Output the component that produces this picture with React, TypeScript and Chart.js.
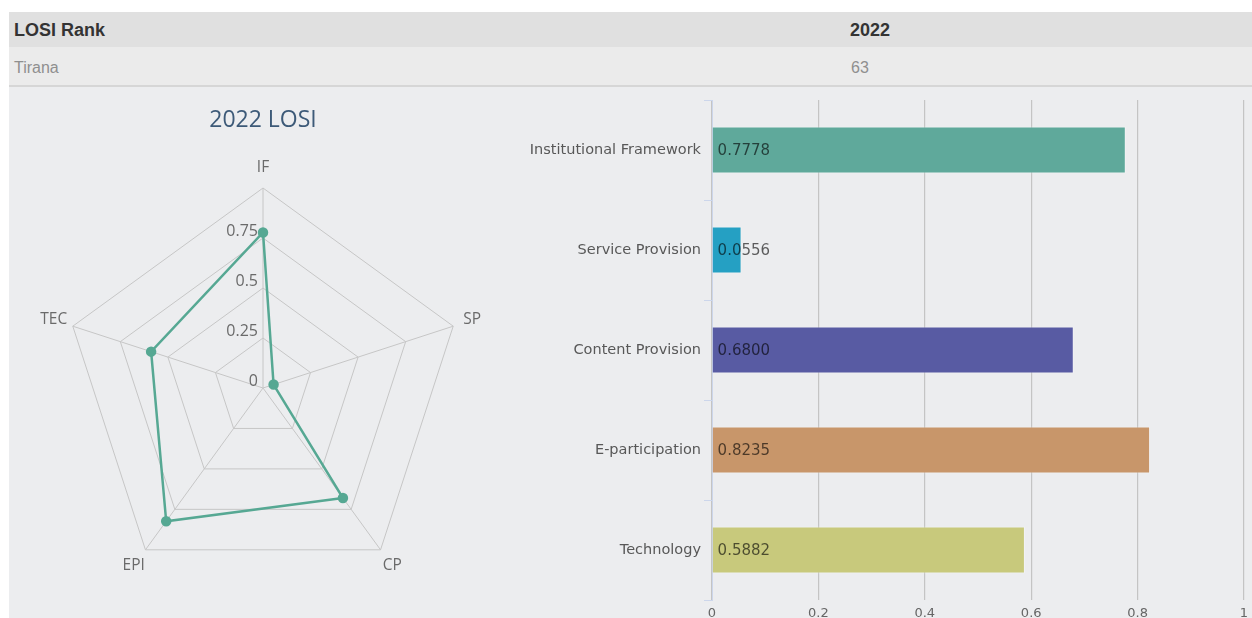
import { useEffect, useRef } from 'react';
import { Chart, registerables } from 'chart.js';

Chart.register(...registerables);

// ---- data ----
const rankHeader = ['LOSI Rank', '2022'];
const rankRow = ['Tirana', '63'];

const radarTitle = '2022 LOSI';
const radarAxes = ['IF', 'SP', 'CP', 'EPI', 'TEC'];
const radarValues = [0.7778, 0.0556, 0.68, 0.8235, 0.5882];
const radarTickValues = [0, 0.25, 0.5, 0.75];

const barCategories = [
  'Institutional Framework',
  'Service Provision',
  'Content Provision',
  'E-participation',
  'Technology',
];
const barValues = [0.7778, 0.0556, 0.68, 0.8235, 0.5882];
const barLabels = ['0.7778', '0.0556', '0.6800', '0.8235', '0.5882'];
const barColors = ['#5fa99b', '#25a0c3', '#585ba3', '#c8966a', '#c8c97c'];

const radarLabelPlugin = {
  id: 'radarLabels',
  beforeDatasetsDraw(chart: any) {
    const s = chart.scales.r;
    const ctx = chart.ctx;
    ctx.save();
    ctx.font = '16px "Open Sans"';
    ctx.fillStyle = '#6a6a6a';
    ctx.textAlign = 'right';
    ctx.textBaseline = 'middle';
    radarTickValues.forEach((v) => {
      const d = s.getDistanceFromCenterForValue(v);
      ctx.fillText(String(v), s.xCenter - 5, s.yCenter - d - 7);
    });
    ctx.restore();
  },
  afterDraw(chart: any) {
    const s = chart.scales.r;
    const ctx = chart.ctx;
    ctx.save();
    ctx.font = '15.5px "Open Sans"';
    ctx.fillStyle = '#6a6a6a';
    ctx.textAlign = 'center';
    ctx.textBaseline = 'middle';
    radarAxes.forEach((lab, i) => {
      const p = s.getPointPosition(i, s.drawingArea + 20);
      ctx.fillText(lab, p.x, p.y);
    });
    ctx.restore();
  },
};

const barLabelPlugin = {
  id: 'barLabels',
  afterDatasetsDraw(chart: any) {
    const meta = chart.getDatasetMeta(0);
    const ctx = chart.ctx;
    ctx.save();
    ctx.font = '15px "DejaVu Sans"';
    ctx.fillStyle = 'rgba(0,0,0,0.62)';
    ctx.textAlign = 'left';
    ctx.textBaseline = 'middle';
    meta.data.forEach((bar: any, i: number) => {
      ctx.fillText(barLabels[i], bar.base + 5, bar.y + 1);
    });
    ctx.restore();
  },
};

export default function App() {
  const radarRef = useRef<HTMLCanvasElement>(null);
  const barRef = useRef<HTMLCanvasElement>(null);

  useEffect(() => {
    const radar = new Chart(radarRef.current as HTMLCanvasElement, {
      type: 'radar',
      data: {
        labels: radarAxes,
        datasets: [
          {
            data: radarValues,
            borderColor: '#56a893',
            backgroundColor: '#56a893',
            pointBackgroundColor: '#56a893',
            pointBorderColor: '#56a893',
            borderWidth: 2.5,
            pointRadius: 4,
            fill: false,
          },
        ],
      },
      options: {
        animation: false,
        responsive: false,
        maintainAspectRatio: false,
        layout: { padding: { left: 54, right: 54, top: 0, bottom: 30 } },
        plugins: {
          legend: { display: false },
          tooltip: { enabled: false },
          title: {
            display: true,
            text: radarTitle,
            color: '#3d5a78',
            font: { family: 'Open Sans', size: 23, weight: 'normal', lineHeight: 1 },
            padding: { top: 21, bottom: 56 },
          },
        },
        scales: {
          r: {
            min: 0,
            max: 1,
            ticks: { display: false, stepSize: 0.25 },
            grid: { color: '#c6c6c6', lineWidth: 1 },
            angleLines: { color: '#c6c6c6', lineWidth: 1 },
            pointLabels: { display: false },
          },
        },
      },
      plugins: [radarLabelPlugin],
    } as any);

    const bar = new Chart(barRef.current as HTMLCanvasElement, {
      type: 'bar',
      data: {
        labels: barCategories,
        datasets: [
          {
            data: barValues,
            backgroundColor: barColors,
            borderColor: 'rgba(255,255,255,0.35)',
            borderWidth: 1,
            barPercentage: 0.47,
            categoryPercentage: 1,
          },
        ],
      },
      options: {
        indexAxis: 'y',
        animation: false,
        responsive: false,
        maintainAspectRatio: false,
        layout: { padding: { left: 0, right: 8, top: 12, bottom: 0 } },
        plugins: { legend: { display: false }, tooltip: { enabled: false } },
        scales: {
          x: {
            min: 0,
            max: 1,
            ticks: {
              stepSize: 0.2,
              color: '#666',
              font: { family: 'DejaVu Sans', size: 13 },
              padding: 6,
              callback: (v: any) => String(Number(Number(v).toFixed(1))),
            },
            grid: { color: '#c4c4c4', drawTicks: false, lineWidth: 1.2 },
            border: { display: false },
            afterFit: (s: any) => {
              s.height = 18;
              s.paddingRight = 0;
              s.paddingLeft = 0;
            },
          },
          y: {
            ticks: {
              color: '#585858',
              font: { family: 'DejaVu Sans', size: 14.5 },
              padding: 3,
            },
            grid: {
              drawOnChartArea: false,
              color: '#ccd6eb',
              tickLength: 8,
              offset: true,
            },
            border: { color: '#ccd6eb', width: 1 },
            afterFit: (s: any) => {
              s.width = 195;
            },
          },
        },
      },
      plugins: [barLabelPlugin],
    } as any);

    return () => {
      radar.destroy();
      bar.destroy();
    };
  }, []);

  const textBase: any = { position: 'absolute', whiteSpace: 'nowrap', lineHeight: 1 };

  return (
    <div
      style={{
        position: 'fixed',
        left: 0,
        top: 0,
        width: 1252,
        height: 618,
        background: '#ffffff',
        overflow: 'hidden',
      }}
    >
      <div style={{ position: 'absolute', left: 9, top: 12, width: 1243, height: 35, background: '#e0e0e0' }} />
      <div style={{ position: 'absolute', left: 9, top: 47, width: 1243, height: 38, background: '#ebebeb' }} />
      <div style={{ position: 'absolute', left: 9, top: 85, width: 1243, height: 2, background: '#d6d6d6' }} />
      <div style={{ position: 'absolute', left: 9, top: 87, width: 1243, height: 531, background: '#ecedef' }} />

      <div style={{ ...textBase, left: 14, top: 20, font: 'bold 18px "Liberation Sans", Arial, sans-serif', color: '#333' }}>
        {rankHeader[0]}
      </div>
      <div style={{ ...textBase, left: 850, top: 20, font: 'bold 18px "Liberation Sans", Arial, sans-serif', color: '#333' }}>
        {rankHeader[1]}
      </div>
      <div style={{ ...textBase, left: 14, top: 59, font: '16px "Liberation Sans", Arial, sans-serif', color: '#8f8f8f' }}>
        {rankRow[0]}
      </div>
      <div style={{ ...textBase, left: 851, top: 59, font: '16px "Liberation Sans", Arial, sans-serif', color: '#8f8f8f' }}>
        {rankRow[1]}
      </div>

      <canvas
        ref={radarRef}
        width={508}
        height={530}
        style={{ position: 'absolute', left: 9, top: 88, width: 508, height: 530 }}
      />
      <canvas
        ref={barRef}
        width={735}
        height={530}
        style={{ position: 'absolute', left: 517, top: 88, width: 735, height: 530 }}
      />
    </div>
  );
}
